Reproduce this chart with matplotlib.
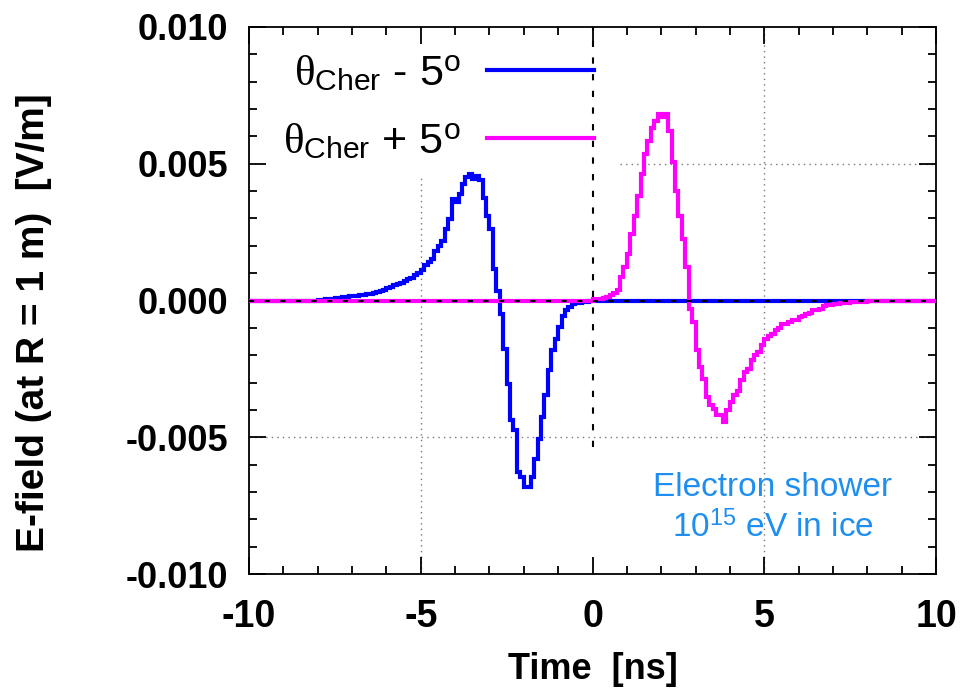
import numpy as np
import matplotlib
matplotlib.use("Agg")
import matplotlib.pyplot as plt
from matplotlib.lines import Line2D

plt.rcParams['font.family'] = ['Liberation Sans', 'DejaVu Sans']
plt.rcParams['mathtext.fontset'] = 'custom'
plt.rcParams['mathtext.rm'] = 'Liberation Sans'
plt.rcParams['mathtext.it'] = 'Liberation Serif'
plt.rcParams['mathtext.bf'] = 'Liberation Sans:bold'

# ---- data (E-field in units of 1e-3 V/m, 0.1 ns bins) ----
bin_width = 0.1
blue_start = -8.0
blue_vals = [
    0.02, 0.03, 0.04, 0.05, 0.06, 0.08, 0.10, 0.12, 0.13, 0.15,
    0.17, 0.18, 0.20, 0.21, 0.22, 0.24, 0.28, 0.30, 0.35, 0.39,
    0.45, 0.51, 0.55, 0.61, 0.65, 0.70, 0.78, 0.84, 0.95, 1.02,
    1.10, 1.28, 1.40, 1.52, 1.82, 2.00, 2.19, 2.62, 2.98, 3.71,
    3.60, 3.90, 4.26, 4.50, 4.62, 4.45, 4.55, 4.40, 3.75, 3.10,
    2.62, 1.16, 0.36, -0.49, -1.76, -3.04, -4.38, -4.74, -6.27, -6.45,
    -6.81, -6.81, -6.45, -5.78, -5.05, -4.26, -3.47, -2.55, -1.82, -1.40,
    -0.97, -0.55, -0.36, -0.22, -0.14, -0.10, -0.08, -0.06, -0.05, -0.03,
]
magenta_start = 0.0
magenta_vals = [
    0.05, 0.06, 0.07, 0.10, 0.14, 0.20, 0.26, 0.40, 0.85, 1.22,
    1.70, 2.43, 3.10, 3.83, 4.62, 5.35, 5.84, 6.30, 6.57, 6.81,
    6.70, 6.81, 6.20, 5.05, 4.01, 3.10, 2.25, 1.22, -0.30, -0.79,
    -1.82, -2.43, -2.86, -3.53, -3.83, -3.95, -4.20, -4.20, -4.44, -4.00,
    -3.70, -3.47, -3.30, -2.92, -2.60, -2.49, -2.19, -2.00, -1.89, -1.64,
    -1.40, -1.30, -1.22, -1.09, -1.00, -0.85, -0.85, -0.78, -0.73, -0.70,
    -0.61, -0.58, -0.49, -0.45, -0.36, -0.34, -0.32, -0.20, -0.18, -0.16,
    -0.12, -0.11, -0.10, -0.09, -0.08, -0.06, -0.06, -0.05, -0.05, -0.04,
    -0.03, -0.02, -0.01,
]
labels = [r'$\theta_{\mathrm{Cher}}$ - 5$^{\mathrm{o}}$',
          r'$\theta_{\mathrm{Cher}}$ + 5$^{\mathrm{o}}$']
colors = ['#0000ff', '#ff00ff']
xticks = [-10, -5, 0, 5, 10]
yticks = [-0.010, -0.005, 0.000, 0.005, 0.010]
ytick_labels = ['-0.010', '-0.005', '0.000', '0.005', '0.010']
xlim = (-10, 10)
ylim = (-0.010, 0.010)


def full_series(start, vals):
    v = np.array(vals) * 1e-3
    edges = start + bin_width * np.arange(len(v) + 1)
    edges = np.concatenate([[xlim[0]], edges, [xlim[1]]])
    v = np.concatenate([[0.0], v, [0.0]])
    return edges, v


fig = plt.figure(figsize=(9.75, 6.94), dpi=100)
ax = fig.add_axes([249 / 975, 1 - 574 / 694, (936 - 249) / 975, (574 - 27) / 694])
ax.set_xlim(*xlim)
ax.set_ylim(*ylim)

# grid (partially hidden behind key area)
grid_kw = dict(color='#777777', lw=1.0, linestyle=(0, (1, 3)), zorder=1)
ax.vlines(-5, ylim[0], 0.00455, **grid_kw)
ax.vlines(5, ylim[0], ylim[1], **grid_kw)
ax.hlines(0.005, 0.8, xlim[1], **grid_kw)
ax.hlines(-0.005, xlim[0], xlim[1], **grid_kw)

for start, vals, c, lab in [(blue_start, blue_vals, colors[0], labels[0]),
                            (magenta_start, magenta_vals, colors[1], labels[1])]:
    e, v = full_series(start, vals)
    ax.stairs(v, e, color=c, lw=3.0, baseline=None, zorder=3, label=lab)

# zero line and t=0 marker
ax.axhline(0, color='black', lw=1.5, linestyle=(0, (2.5, 5)), zorder=4)
ax.vlines(0, -0.00536, ylim[1], color='black', lw=1.5,
          linestyle=(0, (3, 5)), zorder=4)

leg_handles = [Line2D([], [], color=c, lw=3.0) for c in colors]
leg = ax.legend(leg_handles, labels, loc='upper left', bbox_to_anchor=(0.025, 0.982),
                markerfirst=False, frameon=False, fontsize=31,
                handlelength=2.5, handletextpad=0.6, labelspacing=0.66,
                borderaxespad=0.0)

ax.text(5.25, -0.0076, 'Electron shower\n10$^{15}$ eV in ice', color='#1e8ff0',
        fontsize=24, ha='center', va='center', family='Liberation Sans',
        linespacing=1.3)

ax.set_xticks(xticks)
ax.set_xticklabels([str(t) for t in xticks])
ax.set_yticks(yticks)
ax.set_yticklabels(ytick_labels)
ax.xaxis.set_minor_locator(matplotlib.ticker.MultipleLocator(1))
ax.yaxis.set_minor_locator(matplotlib.ticker.MultipleLocator(0.001))
ax.tick_params(which='both', direction='in', top=True, right=True, width=1.3)
ax.tick_params(which='major', length=12)
ax.tick_params(which='minor', length=6)
ax.tick_params(axis='y', which='major', labelsize=26, pad=15)
ax.tick_params(axis='x', which='major', labelsize=27, pad=18)
for lbl in ax.get_yticklabels() + ax.get_xticklabels():
    lbl.set_fontweight('bold')
for s in ax.spines.values():
    s.set_linewidth(1.3)

ax.set_xlabel('Time  [ns]', fontsize=26, fontweight='bold')
ax.xaxis.set_label_coords(0.5, -0.142)
ax.set_ylabel('E-field (at R = 1 m)  [V/m]', fontsize=28, fontweight='bold')
ax.yaxis.set_label_coords(-0.287, 0.46)

fig.savefig('out.png', dpi=100)
